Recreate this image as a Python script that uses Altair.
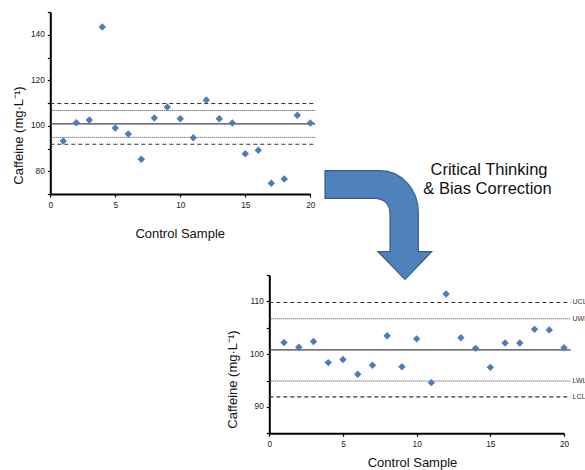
import altair as alt
import pandas as pd

# ---------------- data ----------------
samples = list(range(1, 21))
caffeine_before = [93.3, 101.3, 102.5, 143.4, 99.0, 96.4, 85.3, 103.4, 108.2, 103.1,
                   94.7, 111.3, 103.1, 101.2, 87.7, 89.2, 74.7, 76.6, 104.6, 101.2]
caffeine_after = [102.2, 101.3, 102.4, 98.4, 99.0, 96.2, 97.9, 103.5, 97.6, 102.9,
                  94.6, 111.4, 103.1, 101.1, 97.5, 102.1, 102.1, 104.7, 104.6, 101.2]
limit_names = ["UCL", "UWL", "CL", "LWL", "LCL"]
limit_values = [109.8, 106.7, 100.8, 94.9, 91.9]
limit_styles = ["dash", "dot", "solid", "dot", "dash"]
x_tick_values = [0, 5, 10, 15, 20]
top_y_ticks = [70, 80, 90, 100, 110, 120, 130, 140, 150]
bottom_y_ticks = [85, 90, 95, 100, 105, 110, 115]
annotation_lines = ["Critical Thinking", "& Bias Correction"]

# ---------------- style ----------------
W, H = 585, 470
FONT = "Liberation Sans"
POINT_COLOR = "#4a7ebb"
ARROW_FILL = "#4f81bd"
ARROW_STROKE = "#385d8a"

before_df = pd.DataFrame({"sample": samples, "caffeine": caffeine_before})
after_df = pd.DataFrame({"sample": samples, "caffeine": caffeine_after})
limits_df = pd.DataFrame({"name": limit_names, "value": limit_values, "style": limit_styles})


def panel(points_df, x_px, y_px, y_domain, y_ticks, label_step, line_end,
          x_title_pos, y_title_pos, limit_label_x=None):
    x0, x1 = x_px
    ybot, ytop = y_px
    xscale = alt.Scale(domain=[0, 20], range=[x0, x1], nice=False, zero=False)
    yscale = alt.Scale(domain=y_domain, range=[ybot, ytop], nice=False, zero=False)

    x_axis = alt.Axis(
        orient="bottom", offset=ybot - H, values=x_tick_values, title="Control Sample",
        grid=False, labelFlush=False, labelFontSize=8.3, labelFont=FONT, labelColor="#222",
        labelPadding=3, tickSize=3, tickColor="black", tickWidth=1.2,
        domainColor="black", domainWidth=2,
        titleFont=FONT, titleFontSize=13, titleFontWeight="normal", titleColor="#111",
        titleX=x_title_pos[0], titleY=x_title_pos[1], titleBaseline="middle", titleAlign="center",
    )
    y_axis = alt.Axis(
        orient="left", offset=-x0, values=y_ticks,
        labelExpr=f"datum.value % {label_step} == 0 ? datum.label : ''",
        grid=False, labelFontSize=8.3, labelFont=FONT, labelColor="#222",
        labelPadding=3, tickSize=3, tickColor="black", tickWidth=1.2,
        domainColor="black", domainWidth=2, labelOverlap=False,
        title="Caffeine (mg·L⁻¹)", titleFont=FONT, titleFontSize=13,
        titleFontWeight="normal", titleColor="#111", titleAngle=-90,
        titleX=y_title_pos[0], titleY=y_title_pos[1], titleBaseline="middle", titleAlign="center",
    )

    layers = []
    for style, dash, width, color in [("dash", [4, 3], 1.1, "#333333"),
                                      ("dot", [1, 1], 1.0, "#444444"),
                                      ("solid", None, 1.3, "#444444")]:
        kw = dict(color=color, strokeWidth=width)
        if dash:
            kw["strokeDash"] = dash
        layers.append(
            alt.Chart(limits_df)
            .transform_filter(alt.datum.style == style)
            .mark_rule(**kw)
            .encode(
                x=alt.XDatum(0, type="quantitative", scale=xscale, axis=None),
                x2=alt.X2Datum(line_end),
                y=alt.Y("value:Q", scale=yscale, axis=None),
            )
        )

    layers.append(
        alt.Chart(points_df)
        .mark_point(shape="diamond", filled=True, size=55, color=POINT_COLOR, opacity=1)
        .encode(
            x=alt.X("sample:Q", scale=xscale, axis=x_axis),
            y=alt.Y("caffeine:Q", scale=yscale, axis=y_axis),
        )
    )

    if limit_label_x is not None:
        layers.append(
            alt.Chart(limits_df)
            .transform_filter(alt.datum.name != "CL")
            .mark_text(align="left", baseline="middle", fontSize=7, font=FONT, color="#333")
            .encode(
                x=alt.XDatum(limit_label_x, type="quantitative", scale=xscale, axis=None),
                y=alt.Y("value:Q", scale=yscale, axis=None),
                text="name:N",
            )
        )
    return layers


top_layers = panel(before_df, (50.3, 310.3), (194, 12), [70, 150], top_y_ticks, 20, 20.38,
                   (179.7, 39.3), (-32.0, 135))
bottom_layers = panel(after_df, (269.3, 564), (433.3, 275), [85, 115], bottom_y_ticks, 10, 20.45,
                      (412, 29.4), (-36.5, 379), limit_label_x=20.58)

# ---------------- bent arrow decoration ----------------
cx, cy, s = 378.35, 225.0, 55.0


def p(x, y):
    return f"{(x - cx) / s:.4f},{(y - cy) / s:.4f}"


arrow_path = (
    f"M{p(325, 170.7)} L{p(380, 170.7)} C{p(402, 170.7)} {p(418.3, 190)} {p(418.3, 212)} "
    f"L{p(418.3, 251.7)} L{p(431.7, 251.7)} L{p(405, 279.3)} L{p(378, 251.7)} L{p(390, 251.7)} "
    f"L{p(390, 214)} C{p(390, 204)} {p(384, 198.3)} {p(374, 198.3)} L{p(325, 198.3)} Z"
)

one = pd.DataFrame({"k": [0]})
arrow = alt.Chart(one).mark_point(
    shape=arrow_path, filled=True, fill=ARROW_FILL, stroke=ARROW_STROKE, strokeWidth=1.2,
    size=(2 * s) ** 2, opacity=1, fillOpacity=1, strokeOpacity=1,
).encode(x=alt.value(cx), y=alt.value(cy))

text1 = alt.Chart(one).mark_text(fontSize=16.5, font=FONT, color="#111", baseline="middle", align="center").encode(
    x=alt.value(489), y=alt.value(169.5), text=alt.value(annotation_lines[0]))
text2 = alt.Chart(one).mark_text(fontSize=16.5, font=FONT, color="#111", baseline="middle", align="center").encode(
    x=alt.value(487.5), y=alt.value(188.5), text=alt.value(annotation_lines[1]))

chart = (
    alt.layer(*top_layers, *bottom_layers, arrow, text1, text2)
    .resolve_scale(x="independent", y="independent")
    .properties(width=W, height=H, padding=0, autosize=alt.AutoSizeParams(type="none"),
                background="white")
    .configure_view(stroke=None)
)

chart.save("out.html", embed_options={"renderer": "svg", "actions": False})
